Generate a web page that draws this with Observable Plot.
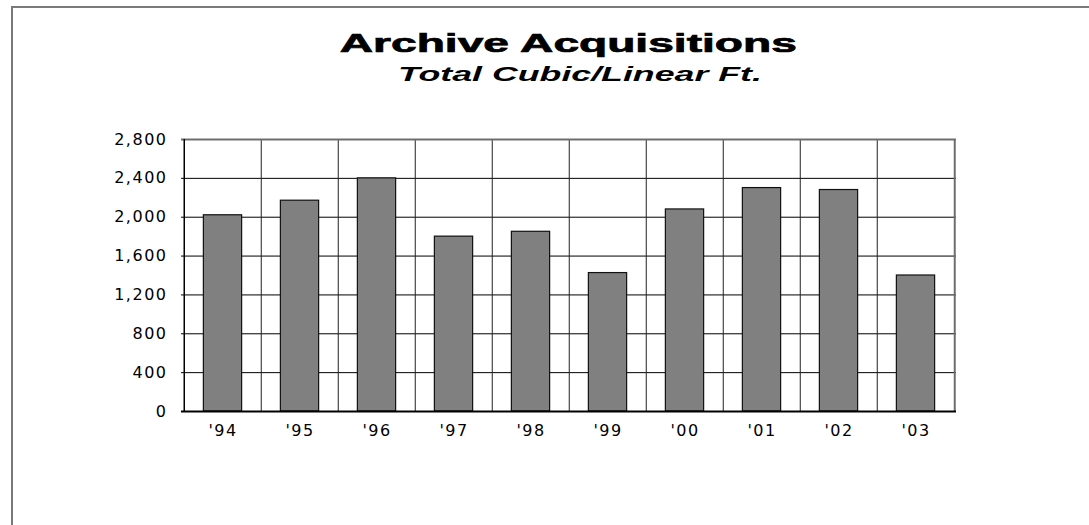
<!DOCTYPE html>
<html>
<head>
<meta charset="utf-8">
<script src="https://cdn.jsdelivr.net/npm/d3@7"></script>
<script src="https://cdn.jsdelivr.net/npm/@observablehq/plot@0.6"></script>
<style>
html, body { margin: 0; padding: 0; width: 1089px; height: 525px; overflow: hidden; background: #fff; }
#frame { position: absolute; left: 11px; top: 6px; width: 2000px; height: 2000px;
  border-top: 2px solid #7a7a7a; border-left: 2px solid #7a7a7a; }
.t { position: absolute; left: 0; text-align: center; white-space: nowrap; color: #000; }
.t span { display: inline-block; transform-origin: 50% 50%; }
#title { top: 30px; width: 1136px; font-family: "Liberation Sans", Arial, sans-serif; font-weight: 900;
  font-size: 26.5px; line-height: 27px; -webkit-text-stroke: 0.7px #000; }
#subtitle { top: 63px; width: 1160px; font-family: "Liberation Sans", Arial, sans-serif; font-weight: bold;
  font-style: italic; font-size: 21px; line-height: 21px; }
#chart { position: absolute; left: 0; top: 100px; }
</style>
</head>
<body>
<div id="frame"></div>
<div class="t" id="title"><span>Archive Acquisitions</span></div>
<div class="t" id="subtitle"><span>Total Cubic/Linear Ft.</span></div>
<div id="chart"></div>
<script>
// ---- data ----
const years = ["'94", "'95", "'96", "'97", "'98", "'99", "'00", "'01", "'02", "'03"];
const cubicFeet = [2020, 2170, 2400, 1800, 1850, 1425, 2080, 2300, 2280, 1400];
const yTicks = [0, 400, 800, 1200, 1600, 2000, 2400, 2800];

const data = years.map((year, i) => ({year, value: cubicFeet[i]}));

// ---- layout ----
const W = 1089, H = 380, mL = 181, mR = 133, mT = 39, mB = 69;
const band = (W - mL - mR) / years.length;
const yMax = yTicks[yTicks.length - 1];

const chart = Plot.plot({
  width: W, height: H,
  marginLeft: mL, marginRight: mR, marginTop: mT, marginBottom: mB,
  style: {fontFamily: "'DejaVu Sans', sans-serif", fontSize: "16px", color: "#000", background: "transparent", letterSpacing: "1.5px"},
  x: {domain: years, padding: 0, label: null},
  y: {domain: [0, yMax], label: null},
  marks: [
    // horizontal gridlines
    Plot.ruleY(yTicks.slice(1, -1), {stroke: "#000", strokeWidth: 1}),
    // vertical gridlines at category boundaries
    Plot.ruleX(years.slice(1), {x: d => d, dx: -band / 2, y1: 0, y2: yMax, stroke: "#222", strokeWidth: 1}),
    // top & right frame (gray)
    Plot.ruleY([yMax], {stroke: "#6e6e6e", strokeWidth: 2}),
    Plot.ruleX([years[years.length - 1]], {x: d => d, dx: band / 2, y1: 0, y2: yMax, stroke: "#6e6e6e", strokeWidth: 2}),
    // bars
    Plot.barY(data, {x: "year", y: "value", fill: "#808080", stroke: "#111", strokeWidth: 1.2,
      insetLeft: band / 4, insetRight: band / 4}),
    // axes
    Plot.axisY({ticks: yTicks, tickFormat: d3.format(","), tickSize: 0, tickPadding: 14, label: null}),
    Plot.axisX({tickSize: 0, tickPadding: 13, label: null}),
    Plot.ruleX([years[0]], {x: d => d, dx: -band / 2, y1: 0, y2: yMax, stroke: "#000", strokeWidth: 1.5}),
    Plot.ruleY([0], {stroke: "#000", strokeWidth: 2})
  ]
});
document.getElementById("chart").appendChild(chart);

// stretch the headings horizontally to the reference's wide lettering
function stretch(id, targetWidth) {
  const s = document.querySelector("#" + id + " span");
  const w = s.getBoundingClientRect().width;
  if (w > 0) s.style.transform = "scaleX(" + (targetWidth / w) + ")";
}
stretch("title", 457);
stretch("subtitle", 364);
</script>
</body>
</html>
